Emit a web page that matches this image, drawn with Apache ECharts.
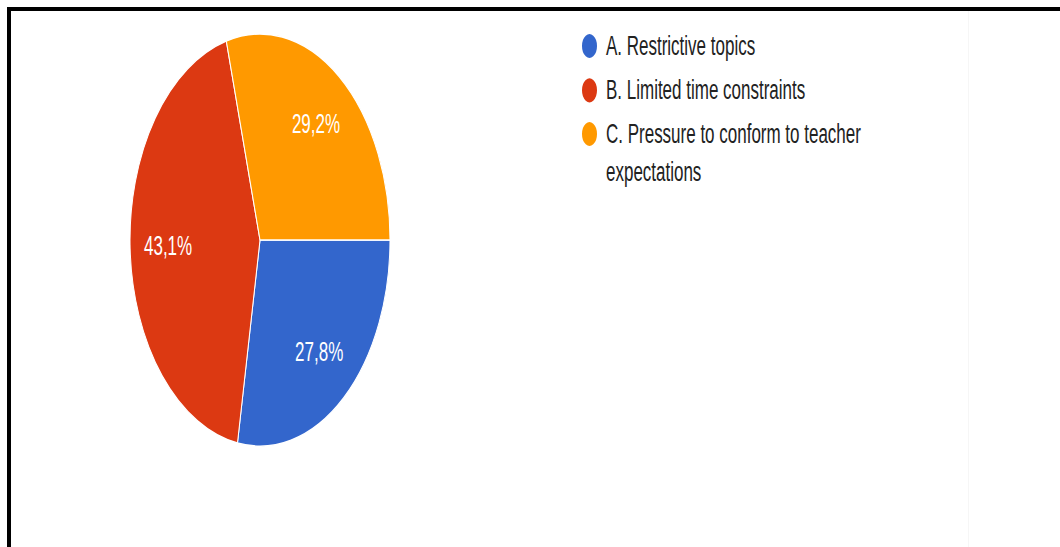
<!DOCTYPE html>
<html>
<head>
<meta charset="utf-8">
<script src="https://cdn.jsdelivr.net/npm/echarts@6/dist/echarts.min.js"></script>
<style>
  html, body { margin: 0; padding: 0; background: #fff; }
  body { width: 1060px; height: 547px; position: relative; overflow: hidden; }
  #chart {
    position: absolute; left: 0; top: 0;
    width: 1060px; height: 345px;
    transform: scaleY(1.5855); transform-origin: 0 0;
  }
  .frame-top { position: absolute; left: 7px; top: 7px; width: 1053px; height: 4px; background: #000; }
  .frame-left { position: absolute; left: 7px; top: 7px; width: 4px; height: 540px; background: #000; }
  .divider { position: absolute; left: 968px; top: 11px; width: 1px; height: 536px; background: #f6f6f6; }
</style>
</head>
<body>
<div id="chart"></div>
<div class="divider"></div>
<div class="frame-top"></div>
<div class="frame-left"></div>
<script>
// Survey answer shares (percent)
const categories = [
  'A. Restrictive topics',
  'B. Limited time constraints',
  'C. Pressure to conform to teacher expectations'
];
const shares = [27.8, 43.1, 29.2];
const colors = ['#3366CC', '#DC3912', '#FF9900'];

const FONT = '"Liberation Sans", Arial, sans-serif';

const sliceData = categories.map((name, i) => ({
  name: name,
  value: shares[i],
  itemStyle: { color: colors[i] }
}));

const fmtPct = (p) => p.value.toFixed(1).replace('.', ',') + '%';

const legendText = {
  fontFamily: FONT,
  fontSize: 17,
  lineHeight: 24,
  color: '#222222',
  width: 272,
  overflow: 'break',
  padding: [0, 0, 0, 3]
};
const legendBase = {
  orient: 'vertical',
  left: 580,
  padding: 0,
  itemGap: 4,
  itemWidth: 17,
  itemHeight: 17,
  icon: 'circle',
  selectedMode: false,
  textStyle: legendText
};

const chart = echarts.init(document.getElementById('chart'), null, { renderer: 'svg' });

chart.setOption({
  animation: false,
  backgroundColor: 'transparent',
  legend: [
    Object.assign({}, legendBase, {
      top: 17,
      data: categories.slice(0, 2)
    }),
    // wrapped entry: a leading blank line keeps the marker level with the first line
    Object.assign({}, legendBase, {
      top: 48.5,
      data: categories.slice(2),
      formatter: (name) => '\n' + name
    })
  ],
  series: [
    {
      // filled slices
      type: 'pie',
      center: [260, 151.4],
      radius: [0, 130],
      startAngle: 0,
      clockwise: true,
      avoidLabelOverlap: false,
      label: { show: false },
      labelLine: { show: false },
      emphasis: { disabled: true },
      itemStyle: { borderColor: '#ffffff', borderWidth: 1 },
      data: sliceData
    },
    {
      // percentage labels placed further out along each slice
      type: 'pie',
      center: [260, 151.4],
      radius: [48, 130],
      startAngle: 0,
      clockwise: true,
      silent: true,
      avoidLabelOverlap: false,
      emphasis: { disabled: true },
      itemStyle: { color: 'rgba(0,0,0,0)', borderWidth: 0 },
      label: {
        show: true,
        position: 'inside',
        color: '#ffffff',
        fontFamily: FONT,
        fontSize: 17,
        formatter: fmtPct
      },
      labelLine: { show: false },
      data: categories.map((name, i) => ({ name: name, value: shares[i] }))
    }
  ]
});
</script>
</body>
</html>
